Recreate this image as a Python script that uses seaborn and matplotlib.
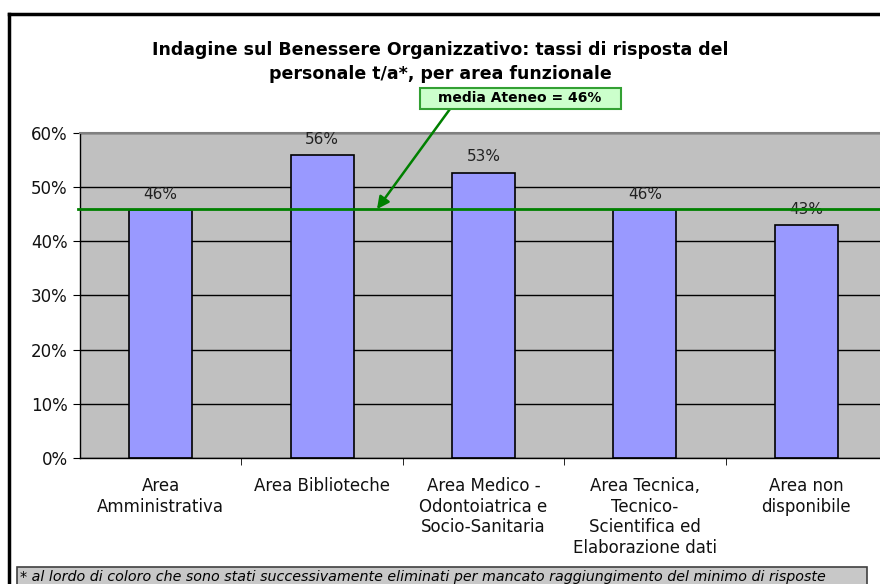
import numpy as np
import matplotlib
matplotlib.use('Agg')
import matplotlib.pyplot as plt
import seaborn as sns
from matplotlib.patches import Rectangle
from matplotlib.lines import Line2D
from matplotlib.ticker import PercentFormatter

# dati
aree = ['Area\nAmministrativa',
        'Area Biblioteche',
        'Area Medico -\nOdontoiatrica e\nSocio-Sanitaria',
        'Area Tecnica,\nTecnico-\nScientifica ed\nElaborazione dati',
        'Area non\ndisponibile']
tassi = [0.457, 0.559, 0.526, 0.457, 0.430]
etichette = ['46%', '56%', '53%', '46%', '43%']
media = 0.459
testo_media = 'media Ateneo = 46%'
titolo1 = 'Indagine sul Benessere Organizzativo: tassi di risposta del'
titolo2 = 'personale t/a*, per area funzionale'
nota = ('* al lordo di coloro che sono stati successivamente eliminati '
        'per mancato raggiungimento del minimo di risposte')

W, H = 880, 584
plt.rcParams['font.family'] = ['DejaVu Sans']
fig = plt.figure(figsize=(W / 100, H / 100), dpi=100)

# area del grafico (a destra esce dall'immagine, come nell'originale)
ax = fig.add_axes([80 / W, (H - 458) / H, 807 / W, (458 - 132.7) / H])
sns.barplot(x=aree, y=tassi, color='#9999ff', saturation=1,
            edgecolor='black', linewidth=1.2, width=0.39, ax=ax, zorder=2)

ax.set_xlim(-0.5, 4.5)
ax.set_ylim(0, 0.6)
ax.set_facecolor('#c0c0c0')
ax.set_yticks(np.arange(0, 0.61, 0.1))
ax.yaxis.set_major_formatter(PercentFormatter(1, decimals=0))
ax.yaxis.grid(True, color='black', lw=1)
ax.set_axisbelow(True)
ax.set_xlabel('')
ax.set_ylabel('')

for s in ['left', 'bottom']:
    ax.spines[s].set_color('black')
    ax.spines[s].set_linewidth(1)
ax.spines['top'].set_color('#808080')
ax.spines['top'].set_linewidth(1.5)
ax.spines['right'].set_visible(False)

ax.tick_params(axis='y', length=5, direction='out', labelsize=12, pad=4,
               labelcolor='#111111')
ax.set_xticks(range(len(aree)))
ax.set_xticklabels(aree, fontsize=12, linespacing=1.18, color='#111111')
ax.tick_params(axis='x', which='major', length=0, pad=14)
ax.set_xticks([0.5, 1.5, 2.5, 3.5], minor=True)
ax.tick_params(axis='x', which='minor', length=5, direction='out')

for i, (v, t) in enumerate(zip(tassi, etichette)):
    ax.annotate(t, (i, v), xytext=(0, 6), textcoords='offset points',
                ha='center', va='bottom', fontsize=11, color='#222222')

# linea della media
ax.axhline(media, xmin=-0.003, xmax=1, color='#008000', lw=2,
           clip_on=False, zorder=4)
ax.annotate('', xy=(1.34, media), xycoords='data',
            xytext=(450, H - 109), textcoords='figure pixels',
            arrowprops=dict(arrowstyle='-|>', color='#008000', lw=1.8,
                            mutation_scale=18, shrinkA=0, shrinkB=0))

fig.patches.append(Rectangle((420 / W, (H - 109) / H), 201 / W, 21 / H,
                             transform=fig.transFigure, facecolor='#ccffcc',
                             edgecolor='#33a033', lw=1.5))
fig.text(520 / W, 1 - 98.5 / H, testo_media, ha='center', va='center',
         fontsize=10, fontweight='bold')

# titolo
fig.text(440 / W, 1 - 50 / H, titolo1, ha='center', va='center',
         fontsize=12.5, fontweight='bold')
fig.text(440 / W, 1 - 74 / H, titolo2, ha='center', va='center',
         fontsize=12.5, fontweight='bold')

# nota in basso
fig.patches.append(Rectangle((17 / W, -0.05), 850 / W, (H - 567) / H + 0.05,
                             transform=fig.transFigure, facecolor='#c8c8c8',
                             edgecolor='#404040', lw=1.2))
fig.text(20 / W, 1 - 577 / H, nota, ha='left', va='center',
         fontsize=10.3, style='italic')

# cornice esterna
fig.lines.append(Line2D([9 / W, 9 / W], [0, 1 - 14 / H],
                        transform=fig.transFigure, color='black', lw=2.5))
fig.lines.append(Line2D([9 / W, 1], [1 - 14 / H, 1 - 14 / H],
                        transform=fig.transFigure, color='black', lw=2.5))

fig.savefig('out.png', dpi=100, facecolor='white')
